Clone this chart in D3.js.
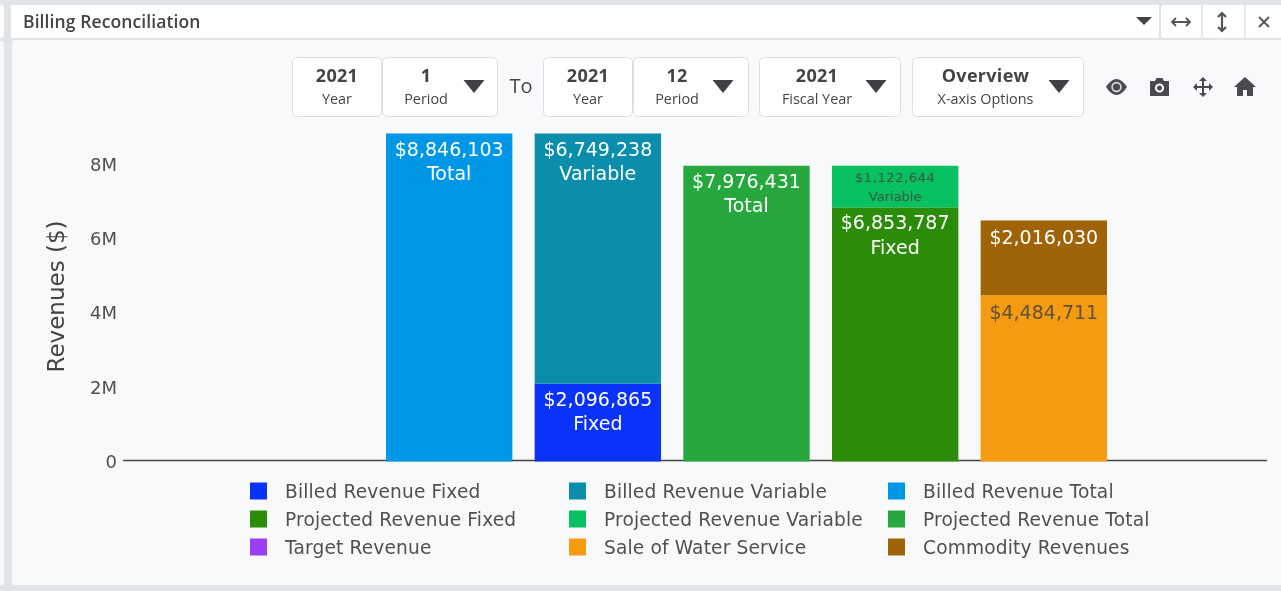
<!DOCTYPE html>
<html>
<head>
<meta charset="utf-8">
<title>Billing Reconciliation</title>
<script src="https://cdn.jsdelivr.net/npm/d3@7"></script>
<style>
html, body { margin: 0; padding: 0; background: #e1e4e6; overflow: hidden; }
svg { display: block; filter: blur(0.35px); }
.ui { font-family: "Open Sans", sans-serif; fill: #444; }
.plot text { font-family: "DejaVu Sans", sans-serif; }
</style>
</head>
<body>
<svg id="chart" width="1281" height="591"></svg>
<script>
var title = 'Billing Reconciliation';
var categories = ['Billed Total', 'Billed', 'Projected Total', 'Projected', 'Actual'];

/////DATA/////////////////////////////////////////
var seriesNames = [
    'Billed Revenue Fixed', 'Billed Revenue Variable', 'Billed Revenue Total',
    'Projected Revenue Fixed', 'Projected Revenue Variable', 'Projected Revenue Total',
    'Target Revenue', 'Sale of Water Service', 'Commodity Revenues'
];
var seriesColors = ['#0a32f8', '#0a8eab', '#0098e6', '#2b8c0a', '#07c160', '#27a83e', '#9b3ff5', '#f59b12', '#9e6407'];
var billedFixed = [0, 2096865, 0, 0, 0];
var billedVariable = [0, 6749238, 0, 0, 0];
var billedTotal = [8846103, 0, 0, 0, 0];
var projectedFixed = [0, 0, 0, 6853787, 0];
var projectedVariable = [0, 0, 0, 1122644, 0];
var projectedTotal = [0, 0, 7976431, 0, 0];
var targetRevenue = [0, 0, 0, 0, 0];
var saleOfWater = [0, 0, 0, 0, 4484711];
var commodity = [0, 0, 0, 0, 2016030];
var seriesValues = [billedFixed, billedVariable, billedTotal, projectedFixed, projectedVariable, projectedTotal, targetRevenue, saleOfWater, commodity];
// second line of the label inside each segment, '' = value only
var seriesTags = ['Fixed', 'Variable', 'Total', 'Fixed', 'Variable', 'Total', '', '', ''];
var yTicks = [0, 2e6, 4e6, 6e6, 8e6];

var controlTop = ['2021', '1', '2021', '12', '2021', 'Overview'];
var controlSub = ['Year', 'Period', 'Year', 'Period', 'Fiscal Year', 'X-axis Options'];

/////LAYOUT///////////////////////////////////////
var svg = d3.select('#chart');
var fmt = d3.format('$,');

var y = d3.scaleLinear().domain([0, 8846103]).range([461.5, 133.5]);
var x = d3.scaleBand().domain(categories).range([386, 1107]).paddingInner(0.15).paddingOuter(0);

// page frame
svg.append('rect').attr('x', 0).attr('y', 0).attr('width', 1281).attr('height', 591).attr('fill', '#e1e4e6');
svg.append('rect').attr('x', -6).attr('y', 5).attr('width', 10).attr('height', 33).attr('rx', 3).attr('fill', '#fff');
svg.append('rect').attr('x', -6).attr('y', 41).attr('width', 10).attr('height', 544).attr('rx', 3).attr('fill', '#f8f9fb');
svg.append('rect').attr('x', 11).attr('y', 5).attr('width', 1148).attr('height', 33).attr('fill', '#fff');
svg.append('rect').attr('x', 12).attr('y', 40).attr('width', 1275).attr('height', 545).attr('rx', 3).attr('fill', '#f8f9fb');

// window buttons
svg.append('rect').attr('x', 1161).attr('y', 5).attr('width', 125).attr('height', 33).attr('rx', 3).attr('fill', '#fff');
[1201, 1244].forEach(function (px) {
    svg.append('rect').attr('x', px).attr('y', 5).attr('width', 2).attr('height', 33).attr('fill', '#e6e8ea');
});

var ui = svg.append('g').attr('class', 'ui');
ui.append('text').attr('x', 23).attr('y', 27.5).attr('font-size', 17.5).attr('font-weight', 600)
    .attr('letter-spacing', 0.1).text(title);

ui.append('path').attr('d', 'M1136,17h16l-8,8z').attr('fill', '#444');
ui.append('path').attr('d', 'M1172,22h18M1176,18l-4,4l4,4M1186,18l4,4l-4,4').attr('fill', 'none').attr('stroke', '#555').attr('stroke-width', 1.8);
ui.append('path').attr('d', 'M1222,13v18M1218,17l4,-4l4,4M1218,27l4,4l4,-4').attr('fill', 'none').attr('stroke', '#555').attr('stroke-width', 2.2);
ui.append('path').attr('d', 'M1259,17l10,10M1269,17l-10,10').attr('fill', 'none').attr('stroke', '#555').attr('stroke-width', 1.8);

// filter controls
var controlBoxes = [[292, 90], [382, 116], [543, 90], [633, 116], [759, 142], [912, 172]];
var controlMid = [337, 426, 588, 677, 817, 985.5];
var arrowX = [null, 474, null, 723, 876, 1059];
controlBoxes.forEach(function (b, i) {
    ui.append('rect').attr('x', b[0] + 0.5).attr('y', 57.5).attr('width', b[1] - 1).attr('height', 59).attr('rx', 5)
        .attr('fill', '#fff').attr('stroke', '#dcdfe2');
    ui.append('text').attr('x', controlMid[i]).attr('y', 82).attr('text-anchor', 'middle')
        .attr('font-size', 18).attr('font-weight', 700).attr('letter-spacing', 0.3).text(controlTop[i]);
    ui.append('text').attr('x', controlMid[i]).attr('y', 104).attr('text-anchor', 'middle')
        .attr('font-size', 14.4).text(controlSub[i]);
    if (arrowX[i]) {
        ui.append('path').attr('d', 'M' + (arrowX[i] - 10.5) + ',80h21l-10.5,13z').attr('fill', '#3f3f44');
    }
});
ui.append('text').attr('x', 521).attr('y', 92.5).attr('text-anchor', 'middle').attr('font-size', 20).text('To');

// modebar icons
var icons = ui.append('g').attr('fill', '#4a4a50');
icons.append('path').attr('d', 'M1106,87q10.5,-16 21,0q-10.5,16 -21,0z');
icons.append('circle').attr('cx', 1116.5).attr('cy', 87).attr('r', 5.2).attr('fill', '#d9dadd');
icons.append('circle').attr('cx', 1116.5).attr('cy', 87).attr('r', 3.6).attr('fill', '#4a4a50');
icons.append('path').attr('fill-rule', 'evenodd')
    .attr('d', 'M1150,81h5l1.5,-3h6l1.5,3h5v15h-19zM1159.5,83.5a4.5,4.5 0 1,0 0.01,0zM1159.5,85.5a2.5,2.5 0 1,1 -0.01,0z');
icons.append('path')
    .attr('d', 'M1203,77l4,4h-3v5h5v-3l4,4l-4,4v-3h-5v5h3l-4,4l-4,-4h3v-5h-5v3l-4,-4l4,-4v3h5v-5h-3z');
icons.append('path')
    .attr('d', 'M1245,77l11,10h-3v9h-6v-6h-4v6h-6v-9h-3z');

/////PLOT/////////////////////////////////////////
var plot = svg.append('g').attr('class', 'plot');

var rows = categories.map(function (c, i) {
    var row = { category: c };
    seriesNames.forEach(function (name, s) { row[name] = seriesValues[s][i]; });
    return row;
});
var stacked = d3.stack().keys(seriesNames)(rows);

var yAxis = d3.axisLeft(y).tickValues(yTicks).tickSize(0).tickPadding(6)
    .tickFormat(function (d) { return d === 0 ? '0' : d3.format('~s')(d); });
var yG = plot.append('g').attr('transform', 'translate(123,0)').call(yAxis);
yG.select('.domain').remove();
yG.selectAll('text').attr('font-size', 18).attr('fill', '#505050').attr('font-family', '"DejaVu Sans", sans-serif');

plot.append('line').attr('x1', 123).attr('x2', 1267).attr('y1', 460.5).attr('y2', 460.5)
    .attr('stroke', '#444').attr('stroke-width', 1.3);

plot.append('text').attr('transform', 'translate(64,296.5) rotate(-90)').attr('text-anchor', 'middle')
    .attr('font-size', 23).attr('fill', '#444').text('Revenues ($)');

stacked.forEach(function (layer, s) {
    var segs = layer.map(function (d, i) {
        return { y0: d[0], y1: d[1], value: seriesValues[s][i], category: categories[i] };
    }).filter(function (d) { return d.value > 0; });

    var g = plot.append('g');
    g.selectAll('rect').data(segs).enter().append('rect')
        .attr('x', function (d) { return x(d.category); })
        .attr('width', x.bandwidth())
        .attr('y', function (d) { return y(d.y1); })
        .attr('height', function (d) { return y(d.y0) - y(d.y1); })
        .attr('fill', seriesColors[s]);

    segs.forEach(function (d) {
        var small = d.value < 1500000;
        var light = seriesNames[s] !== 'Sale of Water Service' && !small;
        var size = small ? 13 : 19;
        var cx = x(d.category) + x.bandwidth() / 2;
        var top = y(d.y1);
        var col = light ? '#fff' : '#444';
        var firstLine = small ? 16.5 : (seriesTags[s] ? 22 : 23.5);
        g.append('text').attr('x', cx).attr('y', top + firstLine).attr('text-anchor', 'middle')
            .attr('font-size', size).attr('fill', col).attr('fill-opacity', light ? 1 : 0.85)
            .attr('letter-spacing', small ? 0.6 : 0).text(fmt(d.value));
        if (seriesTags[s]) {
            g.append('text').attr('x', cx).attr('y', top + (small ? 35.5 : 46.5)).attr('text-anchor', 'middle')
                .attr('font-size', size).attr('fill', col).attr('fill-opacity', light ? 1 : 0.85).text(seriesTags[s]);
        }
    });
});

// legend, three columns filled row by row
var legendX = d3.scalePoint().domain([0, 1, 2]).range([250, 888]);
var legendY = d3.scalePoint().domain([0, 1, 2]).range([491, 547]);
var legend = plot.selectAll('.legend-item').data(seriesNames).enter().append('g')
    .attr('class', 'legend-item')
    .attr('transform', function (d, i) { return 'translate(' + legendX(i % 3) + ',' + legendY(Math.floor(i / 3)) + ')'; });
legend.append('rect').attr('x', 0).attr('y', -8.5).attr('width', 17).attr('height', 17)
    .attr('fill', function (d, i) { return seriesColors[i]; });
legend.append('text').attr('x', 35).attr('y', 6.5).attr('font-size', 18.6).attr('letter-spacing', 0.15)
    .attr('fill', '#505050').text(function (d) { return d; });
</script>
</body>
</html>
